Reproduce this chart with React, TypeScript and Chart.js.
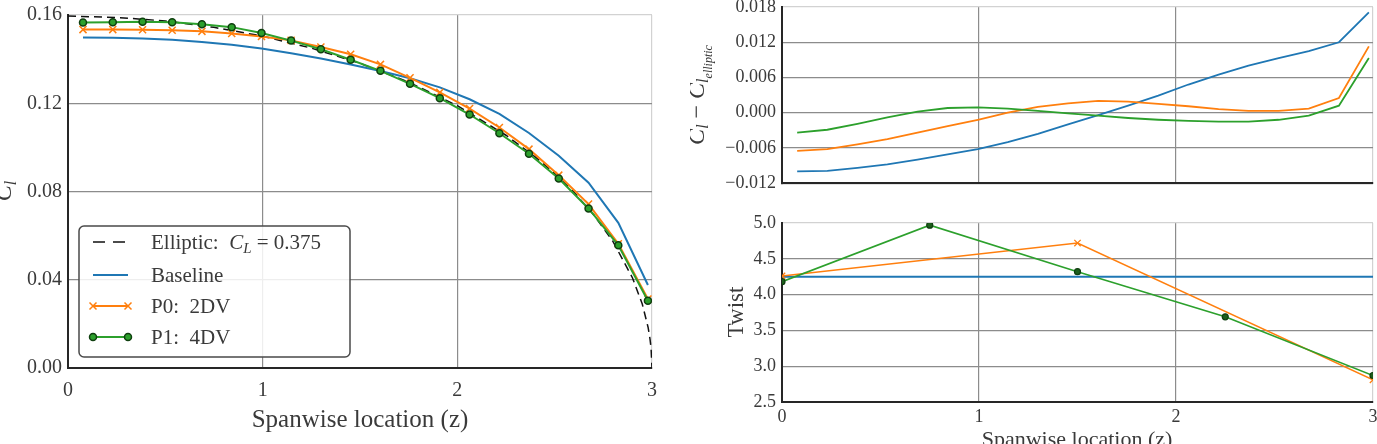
import React, { useEffect, useRef } from 'react';
import { Chart, registerables } from 'chart.js';

Chart.register(...registerables);

const FONT = '"Liberation Serif", "DejaVu Serif", serif';
const BLUE = '#1f77b4';
const ORANGE = '#ff7f0e';
const GREEN = '#2ca02c';
const GREEN_EDGE = '#0f3f0f';
const GRID = '#8c8c8c';
const SPINE_LIGHT = '#d2d2d2';
const SPINE = '#262626';
const TEXT = '#3a3a3a';

// Spanwise stations (z) of the lifting-line panels
const spanZ = [0.077, 0.230, 0.383, 0.535, 0.688, 0.841, 0.994, 1.146, 1.299, 1.452,
  1.605, 1.757, 1.910, 2.063, 2.216, 2.368, 2.521, 2.674, 2.827, 2.979];

// Elliptic reference distribution, C_L = 0.375
const ellipticZ = [0, 0.25, 0.5, 0.75, 1.0, 1.25, 1.5, 1.75, 2.0, 2.25, 2.4, 2.5, 2.6, 2.7,
  2.8, 2.9, 2.95, 2.98, 2.99, 2.995, 3.0];
const ellipticCl = [0.1595, 0.1589, 0.1573, 0.1544, 0.1504, 0.1450, 0.1381, 0.1296, 0.1189,
  0.1055, 0.0957, 0.0882, 0.0796, 0.0695, 0.0573, 0.0408, 0.0290, 0.0184, 0.0130, 0.0092, 0];

// Sectional lift coefficient
const baselineCl = [0.1498, 0.1497, 0.1494, 0.1488, 0.1478, 0.1465, 0.1448, 0.1427, 0.1403, 0.1376,
  0.1346, 0.1313, 0.1272, 0.1218, 0.1152, 0.1065, 0.0962, 0.0840, 0.0658, 0.0376];
const p0Cl = [0.1534, 0.1534, 0.1533, 0.1531, 0.1526, 0.1516, 0.1503, 0.1485, 0.1455, 0.1422,
  0.1376, 0.1315, 0.1249, 0.1176, 0.1090, 0.0992, 0.0874, 0.0743, 0.0563, 0.0313];
const p1Cl = [0.1566, 0.1567, 0.1569, 0.1567, 0.1558, 0.1545, 0.1518, 0.1484, 0.1445, 0.1397,
  0.1347, 0.1288, 0.1223, 0.1149, 0.1064, 0.0971, 0.0859, 0.0723, 0.0556, 0.0305];

// Deviation from the elliptic distribution
const baselineDiff = [-0.0100, -0.0099, -0.0094, -0.0088, -0.0080, -0.0071, -0.0062, -0.0050, -0.0036, -0.0020,
  -0.0004, 0.0012, 0.0029, 0.0048, 0.0065, 0.0080, 0.0093, 0.0105, 0.0120, 0.0171];
const p0Diff = [-0.0065, -0.0062, -0.0054, -0.0045, -0.0034, -0.0023, -0.0012, 0.0000, 0.0010, 0.0016,
  0.0020, 0.0019, 0.0015, 0.0011, 0.0006, 0.0003, 0.0003, 0.0007, 0.0025, 0.0113];
const p1Diff = [-0.0034, -0.0029, -0.0019, -0.0008, 0.0002, 0.0008, 0.0009, 0.0007, 0.0003, -0.0001,
  -0.0005, -0.0009, -0.0012, -0.0014, -0.0015, -0.0015, -0.0012, -0.0005, 0.0012, 0.0093];

// Twist design variables
const baselineTwistZ = [0, 3];
const baselineTwist = [4.25, 4.25];
const p0TwistZ = [0, 1.5, 3];
const p0Twist = [4.26, 4.72, 2.81];
const p1TwistZ = [0, 0.75, 1.5, 2.25, 3];
const p1Twist = [4.18, 4.97, 4.32, 3.69, 2.87];

const xTicks = [0, 1, 2, 3];

const pts = (xs: number[], ys: number[]) => xs.map((x, i) => ({ x, y: ys[i] }));

type Part = { t: string; size: number; italic?: boolean; dy?: number };

function drawRich(ctx: CanvasRenderingContext2D, parts: Part[], x: number, y: number,
  align: 'left' | 'center', rotate = false) {
  ctx.save();
  ctx.translate(x, y);
  if (rotate) ctx.rotate(-Math.PI / 2);
  ctx.fillStyle = TEXT;
  ctx.textBaseline = 'alphabetic';
  ctx.textAlign = 'left';
  const fonts = parts.map(p => `${p.italic ? 'italic ' : ''}${p.size}px ${FONT}`);
  const widths = parts.map((p, i) => { ctx.font = fonts[i]; return ctx.measureText(p.t).width; });
  const total = widths.reduce((a, b) => a + b, 0);
  let cx = align === 'center' ? -total / 2 : 0;
  parts.forEach((p, i) => {
    ctx.font = fonts[i];
    ctx.fillText(p.t, cx, p.dy || 0);
    cx += widths[i];
  });
  ctx.restore();
}

function drawMarker(ctx: CanvasRenderingContext2D, kind: 'x' | 'o', x: number, y: number) {
  ctx.save();
  if (kind === 'x') {
    const d = 3.5;
    ctx.strokeStyle = ORANGE;
    ctx.lineWidth = 1.5;
    ctx.beginPath();
    ctx.moveTo(x - d, y - d); ctx.lineTo(x + d, y + d);
    ctx.moveTo(x - d, y + d); ctx.lineTo(x + d, y - d);
    ctx.stroke();
  } else {
    ctx.fillStyle = GREEN;
    ctx.strokeStyle = GREEN_EDGE;
    ctx.lineWidth = 1.5;
    ctx.beginPath();
    ctx.arc(x, y, 3.5, 0, Math.PI * 2);
    ctx.fill();
    ctx.stroke();
  }
  ctx.restore();
}

type Box = { left: number; top: number; width: number; height: number };

function axisStyle(lastValue: number, fontSize: number, padding: number,
  showLabels: boolean, fmt: (v: number) => string, fixed: { width?: number; height?: number }) {
  return {
    type: 'linear' as const,
    grid: {
      drawTicks: false,
      lineWidth: 1.2,
      color: (c: any) => (Math.abs(c.tick.value - lastValue) < 1e-9 ? SPINE_LIGHT : GRID),
    },
    border: { display: true, color: SPINE, width: 2 },
    ticks: {
      display: showLabels,
      color: TEXT,
      padding,
      font: { family: FONT, size: fontSize },
      callback: (v: any) => fmt(Number(v)),
    },
    afterFit: (s: any) => {
      if (fixed.width !== undefined) s.width = fixed.width;
      if (fixed.height !== undefined) s.height = fixed.height;
    },
  };
}

const fmtSigned = (d: number) => (v: number) => {
  const s = (Math.abs(v) < 1e-12 ? 0 : v).toFixed(d);
  return s.replace('-', '\u2212');
};

export default function App() {
  const leftRef = useRef<HTMLCanvasElement>(null);
  const topRef = useRef<HTMLCanvasElement>(null);
  const botRef = useRef<HTMLCanvasElement>(null);

  // canvas placements in page coordinates
  const leftBox: Box = { left: 0, top: -20, width: 680, height: 464 };
  const topBox: Box = { left: 690, top: -20, width: 687, height: 220 };
  const botBox: Box = { left: 690, top: 190, width: 700, height: 254 };

  useEffect(() => {
    const charts: Chart[] = [];

    // ---- Left: sectional lift distribution
    const leftText = {
      id: 'leftText',
      afterDraw(chart: any) {
        const ctx: CanvasRenderingContext2D = chart.ctx;
        ctx.save();
        ctx.translate(-leftBox.left, -leftBox.top);
        drawRich(ctx, [{ t: 'Spanwise location (z)', size: 25 }], 360, 427, 'center');
        drawRich(ctx, [
          { t: 'C', size: 24, italic: true },
          { t: 'l', size: 16, italic: true, dy: 5 },
        ], 11, 191, 'center', true);

        // legend
        const bx = 79, by = 226, bw = 271, bh = 131, r = 5;
        ctx.beginPath();
        ctx.moveTo(bx + r, by);
        ctx.arcTo(bx + bw, by, bx + bw, by + bh, r);
        ctx.arcTo(bx + bw, by + bh, bx, by + bh, r);
        ctx.arcTo(bx, by + bh, bx, by, r);
        ctx.arcTo(bx, by, bx + bw, by, r);
        ctx.closePath();
        ctx.fillStyle = 'rgba(255,255,255,0.85)';
        ctx.fill();
        ctx.strokeStyle = '#4a4a4a';
        ctx.lineWidth = 1.5;
        ctx.stroke();

        const rows = [242, 275, 306, 337];
        const x1 = 93, x2 = 128, tx = 151, fs = 21;
        // elliptic
        ctx.save();
        ctx.strokeStyle = '#111';
        ctx.lineWidth = 1.5;
        ctx.setLineDash([12, 8]);
        ctx.beginPath(); ctx.moveTo(x1, rows[0]); ctx.lineTo(x2, rows[0]); ctx.stroke();
        ctx.restore();
        // baseline
        ctx.strokeStyle = BLUE; ctx.lineWidth = 2;
        ctx.beginPath(); ctx.moveTo(x1, rows[1]); ctx.lineTo(x2, rows[1]); ctx.stroke();
        // P0
        ctx.strokeStyle = ORANGE; ctx.lineWidth = 2;
        ctx.beginPath(); ctx.moveTo(x1, rows[2]); ctx.lineTo(x2, rows[2]); ctx.stroke();
        drawMarker(ctx, 'x', x1, rows[2]); drawMarker(ctx, 'x', x2, rows[2]);
        // P1
        ctx.strokeStyle = GREEN; ctx.lineWidth = 2;
        ctx.beginPath(); ctx.moveTo(x1, rows[3]); ctx.lineTo(x2, rows[3]); ctx.stroke();
        drawMarker(ctx, 'o', x1, rows[3]); drawMarker(ctx, 'o', x2, rows[3]);

        drawRich(ctx, [
          { t: 'Elliptic:  ', size: fs },
          { t: 'C', size: fs, italic: true },
          { t: 'L', size: 15, italic: true, dy: 4 },
          { t: ' = 0.375', size: fs },
        ], tx, rows[0] + 7, 'left');
        drawRich(ctx, [{ t: 'Baseline', size: fs }], tx, rows[1] + 7, 'left');
        drawRich(ctx, [{ t: 'P0:  2DV', size: fs }], tx, rows[2] + 7, 'left');
        drawRich(ctx, [{ t: 'P1:  4DV', size: fs }], tx, rows[3] + 7, 'left');
        ctx.restore();
      },
    };

    charts.push(new Chart(leftRef.current!, {
      type: 'line',
      data: {
        datasets: [
          {
            label: 'P1: 4DV', data: pts(spanZ, p1Cl), borderColor: GREEN, borderWidth: 2,
            pointStyle: 'circle', pointRadius: 3.5, pointBackgroundColor: GREEN,
            pointBorderColor: GREEN_EDGE, pointBorderWidth: 1.5, order: 0,
          },
          {
            label: 'P0: 2DV', data: pts(spanZ, p0Cl), borderColor: ORANGE, borderWidth: 2,
            pointStyle: 'crossRot', pointRadius: 5, pointBorderColor: ORANGE,
            pointBackgroundColor: ORANGE, pointBorderWidth: 1.5, order: 1,
          },
          {
            label: 'Baseline', data: pts(spanZ, baselineCl), borderColor: BLUE, borderWidth: 2,
            pointRadius: 0, order: 2,
          },
          {
            label: 'Elliptic', data: pts(ellipticZ, ellipticCl), borderColor: '#111', borderWidth: 1.5,
            borderDash: [8, 5], pointRadius: 0, order: 3,
          },
        ],
      },
      options: {
        animation: false,
        responsive: false,
        events: [],
        layout: { padding: { top: 35, right: 28, left: 0, bottom: 0 } },
        plugins: { legend: { display: false }, tooltip: { enabled: false } },
        scales: {
          x: {
            ...axisStyle(3, 20, 11, true, v => String(v), { height: 76 }),
            min: 0, max: 3,
            afterBuildTicks: (s: any) => { s.ticks = xTicks.map(v => ({ value: v })); },
          },
          y: {
            ...axisStyle(0.16, 20, 6, true, v => v.toFixed(2), { width: 68 }),
            min: 0, max: 0.16,
            ticks: {
              color: TEXT, padding: 6, font: { family: FONT, size: 20 },
              stepSize: 0.04, callback: (v: any) => Number(v).toFixed(2),
            },
          },
        },
      } as any,
      plugins: [leftText],
    }));

    // ---- Right top: deviation from elliptic
    const topText = {
      id: 'topText',
      afterDraw(chart: any) {
        const ctx: CanvasRenderingContext2D = chart.ctx;
        ctx.save();
        ctx.translate(-topBox.left, -topBox.top);
        drawRich(ctx, [
          { t: 'C', size: 24, italic: true },
          { t: 'l', size: 16, italic: true, dy: 4 },
          { t: ' \u2212 ', size: 24 },
          { t: 'C', size: 24, italic: true },
          { t: 'l', size: 16, italic: true, dy: 4 },
          { t: 'elliptic', size: 12, italic: true, dy: 8 },
        ], 704, 95, 'center', true);
        ctx.restore();
      },
    };

    charts.push(new Chart(topRef.current!, {
      type: 'line',
      data: {
        datasets: [
          { label: 'P1: 4DV', data: pts(spanZ, p1Diff), borderColor: GREEN, borderWidth: 1.8, pointRadius: 0, order: 0 },
          { label: 'P0: 2DV', data: pts(spanZ, p0Diff), borderColor: ORANGE, borderWidth: 1.8, pointRadius: 0, order: 1 },
          { label: 'Baseline', data: pts(spanZ, baselineDiff), borderColor: BLUE, borderWidth: 1.8, pointRadius: 0, order: 2 },
        ],
      },
      options: {
        animation: false,
        responsive: false,
        events: [],
        layout: { padding: { top: 27, right: 4, left: 0, bottom: 0 } },
        plugins: { legend: { display: false }, tooltip: { enabled: false } },
        scales: {
          x: {
            ...axisStyle(3, 18, 4, false, v => String(v), { height: 14 }),
            min: 0, max: 3,
            afterBuildTicks: (s: any) => { s.ticks = xTicks.map(v => ({ value: v })); },
          },
          y: {
            ...axisStyle(0.018, 18, 6, true, fmtSigned(3), { width: 92 }),
            min: -0.012, max: 0.018,
            ticks: {
              color: TEXT, padding: 6, font: { family: FONT, size: 18 },
              stepSize: 0.006, callback: (v: any) => fmtSigned(3)(Number(v)),
            },
          },
        },
      } as any,
      plugins: [topText],
    }));

    // ---- Right bottom: twist
    const botText = {
      id: 'botText',
      afterDraw(chart: any) {
        const ctx: CanvasRenderingContext2D = chart.ctx;
        ctx.save();
        ctx.translate(-botBox.left, -botBox.top);
        drawRich(ctx, [{ t: 'Twist', size: 23 }], 743, 312, 'center', true);
        drawRich(ctx, [{ t: 'Spanwise location (z)', size: 22 }], 1077, 446, 'center');
        ctx.restore();
      },
    };

    charts.push(new Chart(botRef.current!, {
      type: 'line',
      data: {
        datasets: [
          {
            label: 'P1: 4DV', data: pts(p1TwistZ, p1Twist), borderColor: GREEN, borderWidth: 1.6,
            pointStyle: 'circle', pointRadius: 3, pointBackgroundColor: '#1d5e1d',
            pointBorderColor: GREEN_EDGE, pointBorderWidth: 1.2, order: 0,
          },
          {
            label: 'P0: 2DV', data: pts(p0TwistZ, p0Twist), borderColor: ORANGE, borderWidth: 1.6,
            pointStyle: 'crossRot', pointRadius: 4.5, pointBorderColor: ORANGE,
            pointBackgroundColor: ORANGE, pointBorderWidth: 1.3, order: 1,
          },
          {
            label: 'Baseline', data: pts(baselineTwistZ, baselineTwist), borderColor: BLUE, borderWidth: 2,
            pointRadius: 0, order: 2,
          },
        ],
      },
      options: {
        animation: false,
        responsive: false,
        events: [],
        layout: { padding: { top: 33, right: 17, left: 0, bottom: 0 } },
        plugins: { legend: { display: false }, tooltip: { enabled: false } },
        scales: {
          x: {
            ...axisStyle(3, 18, 4, true, v => String(v), { height: 42 }),
            min: 0, max: 3,
            afterBuildTicks: (s: any) => { s.ticks = xTicks.map(v => ({ value: v })); },
          },
          y: {
            ...axisStyle(5.0, 18, 6, true, v => v.toFixed(1), { width: 92 }),
            min: 2.5, max: 5.0,
            ticks: {
              color: TEXT, padding: 6, font: { family: FONT, size: 18 },
              stepSize: 0.5, callback: (v: any) => Number(v).toFixed(1),
            },
          },
        },
      } as any,
      plugins: [botText],
    }));

    return () => { charts.forEach(c => c.destroy()); };
  }, []);

  const place = (b: Box): React.CSSProperties => ({
    position: 'absolute', left: b.left, top: b.top, width: b.width, height: b.height, display: 'block',
  });

  return (
    <div style={{ position: 'absolute', left: 0, top: 0, width: 1377, height: 444, overflow: 'hidden', background: '#fff' }}>
      <canvas ref={leftRef} width={leftBox.width} height={leftBox.height} style={place(leftBox)} />
      <canvas ref={topRef} width={topBox.width} height={topBox.height} style={place(topBox)} />
      <canvas ref={botRef} width={botBox.width} height={botBox.height} style={place(botBox)} />
    </div>
  );
}
